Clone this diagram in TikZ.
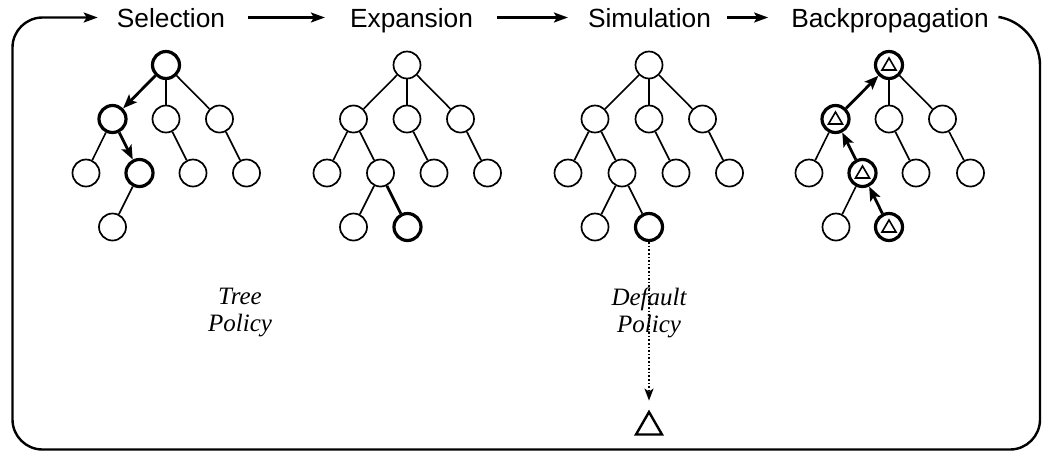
\documentclass[tikz,border=0pt]{standalone}
\usepackage{fontspec}
\setmainfont{Liberation Serif}
\newfontfamily\titlefont{Liberation Sans}
\usetikzlibrary{arrows.meta,shapes.geometric}
\begin{document}
\begin{tikzpicture}[x=1pt,y=-1pt,
  nd/.style={circle,draw,line width=1.7pt,minimum size=27pt,inner sep=0pt},
  hot/.style={nd,line width=3.2pt},
  edge/.style={line width=1.6pt},
  thickedge/.style={line width=2.8pt},
  selarrow/.style={line width=2.8pt,-{Stealth[length=14pt,width=11pt,inset=3pt]}},
  titletext/.style={font=\titlefont\fontsize{26.3}{30}\selectfont,inner sep=0pt,text height=19pt,text depth=0pt},
  titlearrow/.style={line width=2.2pt,-{Stealth[length=14pt,width=10pt,inset=3pt]}},
  policy/.style={font=\itshape\fontsize{25}{27}\selectfont,align=center,inner sep=0pt},
  frameline/.style={line width=2.4pt,-{Stealth[length=14pt,width=10pt,inset=3pt]}},
  tri/.style={line width=1.6pt,line join=miter},
  dottedarrow/.style={line width=1.7pt,dash pattern=on 1.6pt off 2pt,-{Stealth[length=12pt,width=9pt,inset=3pt]}}]
\useasboundingbox (0,0) rectangle (1044,459);

% ---------- titles ----------
\node[titletext] (ta) at (171,17.5) {Selection};
\node[titletext] (tb) at (411.5,17.5) {Expansion};
\node[titletext] (tc) at (649.5,17.5) {Simulation};
\node[titletext] (td) at (890,17.5) {Backpropagation};

\draw[titlearrow,shorten <=23pt,shorten >=25pt] (ta.east) -- (tb.west);
\draw[titlearrow,shorten <=24pt,shorten >=20pt] (tb.east) -- (tc.west);
\draw[titlearrow,shorten <=16pt,shorten >=23pt] (tc.east) -- (td.west);

% ---------- frame loop ----------
\draw[frameline,rounded corners=32pt]
  ([xshift=13pt]td.east) [rounded corners=42pt] -- (1040,23)
  [rounded corners=30pt] -- (1040,449.5) -- (12.5,449.5) -- (12.5,17.5)
  -- ([xshift=-19pt]ta.west);

% ---------- tree a: Selection ----------
\node[hot] (a0) at (166,65) {};
\node[hot] (a1) at (112.5,119) {};
\node[nd]  (a2) at (166,119) {};
\node[nd]  (a3) at (219.5,119) {};
\node[nd]  (a4) at (86,173) {};
\node[hot] (a5) at (139.5,173) {};
\node[nd]  (a6) at (193,173) {};
\node[nd]  (a7) at (246.5,173) {};
\node[nd]  (a8) at (112.5,227) {};
\draw[selarrow] (a0) -- (a1);
\draw[selarrow] (a1) -- (a5);
\draw[edge] (a0) -- (a2);
\draw[edge] (a0) -- (a3);
\draw[edge] (a1) -- (a4);
\draw[edge] (a2) -- (a6);
\draw[edge] (a3) -- (a7);
\draw[edge] (a5) -- (a8);

% ---------- tree b: Expansion ----------
\node[nd]  (b0) at (407,65) {};
\node[nd]  (b1) at (353.5,119) {};
\node[nd]  (b2) at (407,119) {};
\node[nd]  (b3) at (460.5,119) {};
\node[nd]  (b4) at (327,173) {};
\node[nd]  (b5) at (380.5,173) {};
\node[nd]  (b6) at (434,173) {};
\node[nd]  (b7) at (487.5,173) {};
\node[nd]  (b8) at (353.5,227) {};
\node[hot] (b9) at (407.5,227) {};
\draw[edge] (b0) -- (b1);
\draw[edge] (b0) -- (b2);
\draw[edge] (b0) -- (b3);
\draw[edge] (b1) -- (b4);
\draw[edge] (b1) -- (b5);
\draw[edge] (b2) -- (b6);
\draw[edge] (b3) -- (b7);
\draw[edge] (b5) -- (b8);
\draw[thickedge] (b5) -- (b9);

% ---------- tree c: Simulation ----------
\node[nd]  (c0) at (649,65) {};
\node[nd]  (c1) at (595,119) {};
\node[nd]  (c2) at (649,119) {};
\node[nd]  (c3) at (702.5,119) {};
\node[nd]  (c4) at (568,173) {};
\node[nd]  (c5) at (622,173) {};
\node[nd]  (c6) at (676,173) {};
\node[nd]  (c7) at (729.5,173) {};
\node[nd]  (c8) at (595,227) {};
\node[hot] (c9) at (649,227) {};
\draw[edge] (c0) -- (c1);
\draw[edge] (c0) -- (c2);
\draw[edge] (c0) -- (c3);
\draw[edge] (c1) -- (c4);
\draw[edge] (c1) -- (c5);
\draw[edge] (c2) -- (c6);
\draw[edge] (c3) -- (c7);
\draw[edge] (c5) -- (c8);
\draw[edge] (c5) -- (c9);

\node[regular polygon,regular polygon sides=3,draw,line width=2.4pt,minimum size=30pt,inner sep=0pt] (term) at (649,427) {};
\draw[dottedarrow,shorten >=9pt] (c9) -- (term.north);

% ---------- tree d: Backpropagation ----------
\node[hot] (d0) at (889,65) {};
\node[hot] (d1) at (835.5,119) {};
\node[nd]  (d2) at (889,119) {};
\node[nd]  (d3) at (942.5,119) {};
\node[nd]  (d4) at (809,173) {};
\node[hot] (d5) at (862.5,173) {};
\node[nd]  (d6) at (916,173) {};
\node[nd]  (d7) at (970.5,173) {};
\node[nd]  (d8) at (836,227) {};
\node[hot] (d9) at (889,227) {};
\draw[selarrow] (d9) -- (d5);
\draw[selarrow] (d5) -- (d1);
\draw[selarrow] (d1) -- (d0);
\draw[edge] (d0) -- (d2);
\draw[edge] (d0) -- (d3);
\draw[edge] (d1) -- (d4);
\draw[edge] (d2) -- (d6);
\draw[edge] (d3) -- (d7);
\draw[edge] (d5) -- (d8);
\foreach \n in {d0,d1,d5,d9} {
  \draw[tri] ([shift={(-7,5)}]\n.center) -- ++(14,0) -- ++(-7,-12) -- cycle;
}

% ---------- policy labels ----------
\node[policy] (tp) at (240,313) {Tree\\Policy};
\node[policy] (dp) at (649,313) {Default\\Policy};
\end{tikzpicture}
\end{document}
